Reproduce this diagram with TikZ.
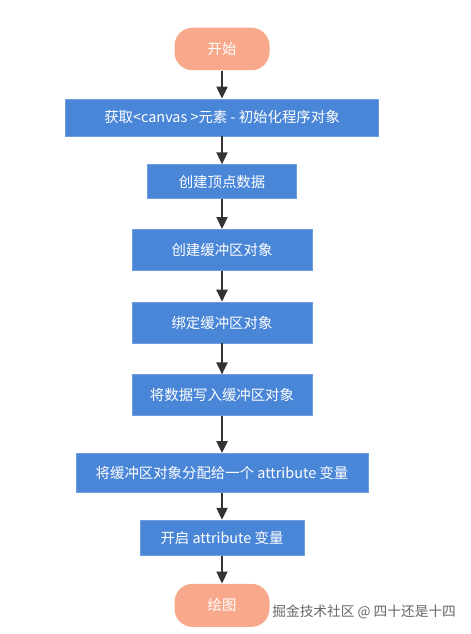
\documentclass[tikz,border=0pt]{standalone}
\usepackage{fontspec}
\setmainfont{Noto Sans CJK SC}
\usepackage{xcolor}
\usetikzlibrary{arrows.meta,positioning}

\definecolor{stepblue}{HTML}{4A86D8}
\definecolor{termsalmon}{HTML}{F9A98B}
\definecolor{arrowgray}{HTML}{333333}

\begin{document}
\begin{tikzpicture}[
  node distance=0.58cm,
  font=\fontsize{8.2}{10}\selectfont,
  term/.style={rectangle,rounded corners=0.36cm,fill=termsalmon,text=white,minimum width=1.9cm,minimum height=0.85cm,align=center},
  stepbox/.style={rectangle,fill=stepblue,draw=stepblue!80!white,text=white,minimum height=0.8cm,align=center},
  arrow/.style={-{Triangle[length=2.4mm,width=2.2mm]},line width=1.2pt,draw=arrowgray,fill=arrowgray}
]
  \useasboundingbox (0,0) rectangle (9.4,-12.68);

  \node[term] (start) at (4.44,-0.98) {开始};
  \node[stepbox,minimum width=6.26cm,minimum height=0.74cm,below=0.56cm of start] (canvas) {获取<canvas >元素 - 初始化程序对象};
  \node[stepbox,minimum width=2.98cm,minimum height=0.68cm,below=0.56cm of canvas] (vertex) {创建顶点数据};
  \node[stepbox,minimum width=3.6cm,minimum height=0.82cm,below=0.6cm of vertex] (create) {创建缓冲区对象};
  \node[stepbox,minimum width=3.6cm,minimum height=0.82cm,below=0.62cm of create] (bind) {绑定缓冲区对象};
  \node[stepbox,minimum width=3.6cm,minimum height=0.82cm,below=0.62cm of bind] (write) {将数据写入缓冲区对象};
  \node[stepbox,minimum width=5.84cm,minimum height=0.78cm,below=0.74cm of write] (assign) {将缓冲区对象分配给一个 attribute 变量};
  \node[stepbox,minimum width=3.28cm,minimum height=0.7cm,below=0.54cm of assign] (enable) {开启 attribute 变量};
  \node[term,minimum height=0.86cm,below=0.56cm of enable] (draw) {绘图};

  \draw[arrow] (start) -- (canvas);
  \draw[arrow] (canvas) -- (vertex);
  \draw[arrow] (vertex) -- (create);
  \draw[arrow] (create) -- (bind);
  \draw[arrow] (bind) -- (write);
  \draw[arrow] (write) -- (assign);
  \draw[arrow] (assign) -- (enable);
  \draw[arrow] (enable) -- (draw);

  \node[anchor=west,inner sep=0pt,text=black!60,font=\fontsize{7.8}{9}\selectfont] (mark) at (5.44,-12.24) {掘金技术社区 @ 四十还是十四};
\end{tikzpicture}
\end{document}
